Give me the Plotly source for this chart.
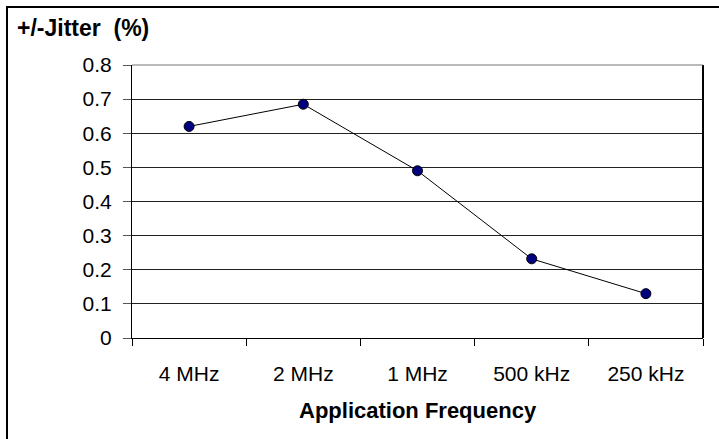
import plotly.graph_objects as go

# data
frequencies = ["4 MHz", "2 MHz", "1 MHz", "500 kHz", "250 kHz"]
jitter_pct = [0.62, 0.685, 0.49, 0.232, 0.13]
y_ticks = [0, 0.1, 0.2, 0.3, 0.4, 0.5, 0.6, 0.7, 0.8]

W, H = 719, 439
ML, MR, MT, MB = 132, 16, 65, 101
PW, PH = W - ML - MR, H - MT - MB


def px_x(x):
    return (x - ML) / PW


def px_y(y):
    return (H - MB - y) / PH


FONT = "Liberation Sans, Arial, sans-serif"

fig = go.Figure()
fig.add_trace(
    go.Scatter(
        x=frequencies,
        y=jitter_pct,
        mode="lines+markers",
        line=dict(color="black", width=1),
        marker=dict(color="#000080", size=10, line=dict(color="black", width=1)),
        showlegend=False,
    )
)

fig.update_layout(
    width=W,
    height=H,
    margin=dict(l=ML, r=MR, t=MT, b=MB, pad=0),
    paper_bgcolor="white",
    plot_bgcolor="white",
    font=dict(family=FONT, size=22, color="black"),
    xaxis=dict(
        type="category",
        range=[-0.5, 4.5],
        tickson="boundaries",
        ticks="outside",
        ticklen=7,
        tickcolor="black",
        showline=True,
        linecolor="black",
        linewidth=1,
        showgrid=False,
        zeroline=False,
        tickfont=dict(size=21),
        ticklabelstandoff=17,
    ),
    yaxis=dict(
        range=[0, 0.8],
        tickvals=y_ticks,
        ticktext=[f"{v:g}" for v in y_ticks],
        ticks="outside",
        ticklen=8,
        tickcolor="#555",
        showline=True,
        linecolor="black",
        linewidth=1,
        showgrid=True,
        gridcolor="#222",
        gridwidth=1,
        zeroline=False,
        tickfont=dict(size=21),
        ticklabelstandoff=7,
    ),
)

# y title (top left) and x title
fig.add_annotation(
    text="<b>+/-Jitter  (%)</b>", xref="paper", yref="paper",
    x=px_x(15), y=px_y(28), xanchor="left", yanchor="middle",
    showarrow=False, font=dict(size=23, family=FONT),
)
fig.add_annotation(
    text="<b>Application Frequency</b>", xref="paper", yref="paper",
    x=0.5, y=px_y(410), xanchor="center", yanchor="middle",
    showarrow=False, font=dict(size=22, family=FONT),
)

# plot-area right border and top line
fig.add_shape(type="line", xref="paper", yref="paper", x0=1, x1=1, y0=0, y1=1,
              line=dict(color="black", width=2))
fig.add_shape(type="line", xref="paper", yref="paper", x0=0, x1=1, y0=1, y1=1,
              line=dict(color="#777", width=1))

# outer chart frame (cut off at right and bottom)
fig.add_shape(type="line", xref="paper", yref="paper",
              x0=px_x(7), x1=px_x(7), y0=px_y(6), y1=px_y(460),
              line=dict(color="black", width=2))
fig.add_shape(type="line", xref="paper", yref="paper",
              x0=px_x(6), x1=px_x(740), y0=px_y(7), y1=px_y(7),
              line=dict(color="black", width=2))

fig.write_html("out.html", config={"displayModeBar": False},
               post_script="document.body.style.margin='0';")
